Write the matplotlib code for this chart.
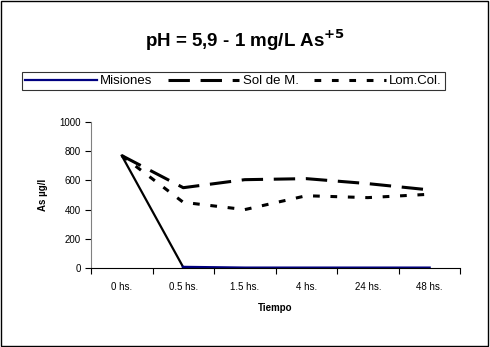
import matplotlib
matplotlib.use('Agg')
from matplotlib import pyplot as plt
from matplotlib.patches import Rectangle
from matplotlib.lines import Line2D

plt.rcParams['font.family'] = ['Liberation Sans', 'DejaVu Sans']

tiempos = ['0 hs.', '0.5 hs.', '1.5 hs.', '4 hs.', '24 hs.', '48 hs.']
misiones = [770, 5, 0, 0, 0, 0]
sol_de_m = [770, 550, 605, 612, 578, 535]
lom_col = [770, 450, 400, 495, 482, 505]

fig = plt.figure(figsize=(4.9, 3.47), dpi=100)
ax = fig.add_axes([91/490, 1-268/347, 369/490, 146/347])

xs = list(range(len(tiempos)))
# excel drew the first Misiones segment in black
ax.plot(xs[:2], misiones[:2], color='black', lw=1.6)
ax.plot(xs[1:], misiones[1:], color='#000080', lw=2.2)
ax.plot(xs, sol_de_m, color='black', lw=2.2, dashes=(7, 3.5))
ax.plot(xs, lom_col, color='black', lw=2.2, dashes=(2.2, 3.5))

ax.set_xlim(-0.5, 5.5)
ax.set_ylim(0, 1000)
ax.set_yticks([0, 200, 400, 600, 800, 1000])
ax.set_xticks(xs)
ax.set_xticklabels(tiempos)
ax.set_xticks([x + 0.5 for x in range(-1, 6)], minor=True)
ax.tick_params(axis='x', which='major', length=0, labelsize=7, pad=10)
ax.tick_params(axis='x', which='minor', length=4, direction='out', width=0.8)
ax.tick_params(axis='y', length=4, direction='out', labelsize=7, width=0.8)
for s in ['top', 'right']:
    ax.spines[s].set_visible(False)
ax.spines['left'].set_color('#808080')
ax.spines['bottom'].set_linewidth(0.8)

ax.set_xlabel('Tiempo', fontsize=7, fontweight='bold', labelpad=8)
ax.set_ylabel('As µg/l', fontsize=7, fontweight='bold', labelpad=8)

fig.text(0.5, 1-40/347, 'pH = 5,9 - 1 mg/L As$^{\\mathbf{+5}}$', ha='center', va='center',
         fontsize=13.5, fontweight='bold')

handles = [Line2D([], [], color='#000080', lw=1.6),
           Line2D([], [], color='black', lw=2.2, dashes=(7, 3.5)),
           Line2D([], [], color='black', lw=2.2, dashes=(2.2, 3.5))]
leg = fig.legend(handles, ['Misiones', 'Sol de M.', 'Lom.Col.'], ncol=3,
                 loc='center left', bbox_to_anchor=(22/490, 1-81/347),
                 fontsize=9.5, handlelength=5.4, handletextpad=0.25, columnspacing=1.2,
                 frameon=True, fancybox=False, borderpad=0.25, borderaxespad=0)
leg.get_frame().set_edgecolor('black')
leg.get_frame().set_linewidth(0.8)

fig.patches.append(Rectangle((0.002, 0.003), 0.994, 0.993, transform=fig.transFigure,
                             fill=False, edgecolor='black', lw=1))

fig.savefig('out.png', dpi=100)
